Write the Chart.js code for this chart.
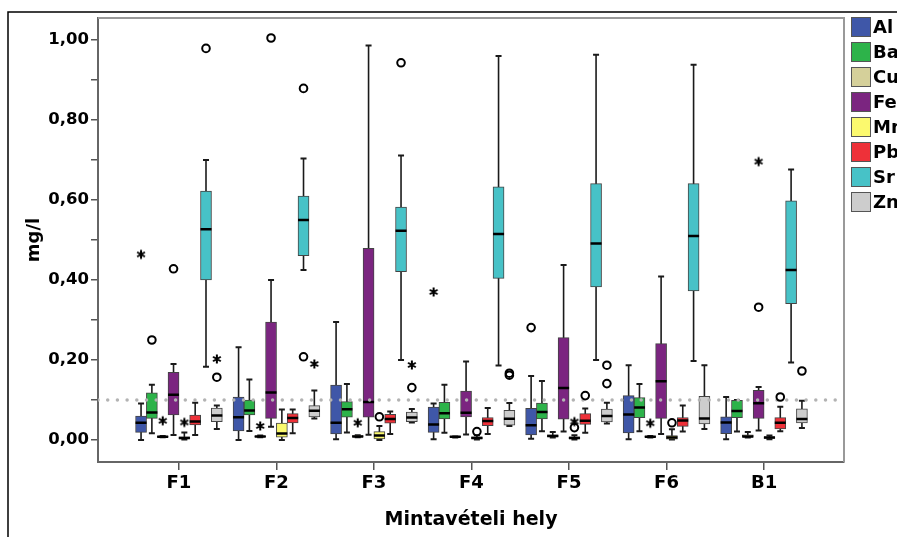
<!DOCTYPE html>
<html>
<head>
<meta charset="utf-8">
<script src="https://cdn.jsdelivr.net/npm/chart.js@4.4.1/dist/chart.umd.min.js"></script>
<style>
  html, body { margin: 0; padding: 0; background: #fff; }
</style>
</head>
<body>
<canvas id="myChart" width="897" height="537"></canvas>
<script>
// mintavételi helyek és elemek
const sites = ["F1", "F2", "F3", "F4", "F5", "F6", "B1"];
const elements = ["Al", "Ba", "Cu", "Fe", "Mn", "Pb", "Sr", "Zn"];
const colors = ["#3f57a8", "#2db34a", "#d5d09a", "#7b2580", "#fbf96e", "#ee3139", "#47c2c7", "#cdcdcd"];

// [min, Q1, medián, Q3, max] helyenként (F1..F6, B1)
const al = [[0.000, 0.019, 0.043, 0.060, 0.091], [0.000, 0.0225, 0.057, 0.107, 0.232], [0.002, 0.015, 0.043, 0.1375, 0.295], [0.002, 0.019, 0.039, 0.0825, 0.091], [0.003, 0.0125, 0.037, 0.079, 0.160], [0.002, 0.018, 0.064, 0.111, 0.187], [0.002, 0.016, 0.044, 0.058, 0.1075]];
const ba = [[0.017, 0.054, 0.069, 0.118, 0.138], [0.0225, 0.0625, 0.074, 0.100, 0.151], [0.019, 0.057, 0.077, 0.096, 0.140], [0.018, 0.0525, 0.067, 0.094, 0.138], [0.022, 0.053, 0.070, 0.0925, 0.1475], [0.022, 0.056, 0.081, 0.106, 0.140], [0.021, 0.056, 0.0725, 0.099, 0.100]];
const cu = [[0.007, 0.007, 0.008, 0.010, 0.010], [0.007, 0.008, 0.009, 0.010, 0.011], [0.007, 0.008, 0.009, 0.011, 0.012], [0.006, 0.007, 0.008, 0.009, 0.009], [0.006, 0.008, 0.010, 0.013, 0.020], [0.006, 0.007, 0.008, 0.010, 0.010], [0.006, 0.007, 0.009, 0.013, 0.020]];
const fe = [[0.0125, 0.0625, 0.113, 0.169, 0.190], [0.033, 0.054, 0.119, 0.295, 0.400], [0.013, 0.057, 0.095, 0.479, 0.986], [0.014, 0.058, 0.068, 0.1225, 0.196], [0.021, 0.052, 0.130, 0.256, 0.4375], [0.015, 0.054, 0.147, 0.241, 0.409], [0.024, 0.054, 0.092, 0.124, 0.1325]];
const mn = [[0.001, 0.003, 0.005, 0.008, 0.019], [0.000, 0.007, 0.016, 0.042, 0.076], [0.000, 0.0025, 0.011, 0.021, 0.035], [0.001, 0.003, 0.005, 0.008, 0.012], [0.001, 0.003, 0.005, 0.008, 0.012], [0.001, 0.002, 0.006, 0.011, 0.027], [0.002, 0.004, 0.006, 0.008, 0.011]];
const pb = [[0.0125, 0.0375, 0.046, 0.062, 0.093], [0.017, 0.043, 0.055, 0.066, 0.076], [0.015, 0.042, 0.0525, 0.064, 0.071], [0.015, 0.036, 0.0475, 0.056, 0.080], [0.018, 0.039, 0.048, 0.066, 0.079], [0.021, 0.034, 0.049, 0.056, 0.086], [0.022, 0.0275, 0.043, 0.056, 0.083]];
const sr = [[0.183, 0.400, 0.527, 0.622, 0.700], [0.425, 0.461, 0.550, 0.610, 0.704], [0.200, 0.421, 0.523, 0.5825, 0.711], [0.186, 0.404, 0.515, 0.633, 0.960], [0.200, 0.3825, 0.491, 0.641, 0.963], [0.1975, 0.373, 0.510, 0.641, 0.938], [0.194, 0.341, 0.425, 0.598, 0.676]];
const zn = [[0.0275, 0.046, 0.061, 0.080, 0.086], [0.054, 0.058, 0.073, 0.086, 0.124], [0.044, 0.046, 0.056, 0.070, 0.0775], [0.035, 0.037, 0.053, 0.074, 0.0925], [0.041, 0.045, 0.060, 0.077, 0.093], [0.0275, 0.040, 0.054, 0.109, 0.187], [0.030, 0.043, 0.0525, 0.078, 0.098]];
const stats = [al, ba, cu, fe, mn, pb, sr, zn];

// kiugró értékek (kör) és extrém értékek (csillag): [hely 1..7, elem index, érték]
const outliers = [
  [1, 1, 0.250], [1, 3, 0.428], [1, 6, 0.979], [1, 7, 0.157],
  [2, 3, 1.005], [2, 6, 0.879], [2, 6, 0.208],
  [3, 4, 0.058], [3, 6, 0.943], [3, 7, 0.131],
  [4, 4, 0.021], [4, 7, 0.162], [4, 7, 0.167],
  [5, 0, 0.281], [5, 4, 0.031], [5, 5, 0.111], [5, 7, 0.187], [5, 7, 0.141],
  [6, 4, 0.043],
  [7, 3, 0.332], [7, 5, 0.1075], [7, 7, 0.1725],
];
const extremes = [
  [1, 0, 0.464], [1, 2, 0.048], [1, 4, 0.044], [1, 7, 0.2025],
  [2, 2, 0.035], [2, 7, 0.190],
  [3, 2, 0.043], [3, 7, 0.1875],
  [4, 0, 0.370],
  [5, 4, 0.046],
  [6, 2, 0.042],
  [7, 3, 0.696],
];
const limitValue = 0.1; // pontozott határérték vonal
const yTicks = [0, 0.1, 0.2, 0.3, 0.4, 0.5, 0.6, 0.7, 0.8, 0.9, 1.0];

const STEP = 0.111; // dobozok távolsága egy csoporton belül
const FONT = "DejaVu Sans";
const xPos = (site, el) => site + (el - 3.5) * STEP;

// csillag jel (SPSS-szerű *) pontstílusnak
function makeStar() {
  const c = document.createElement("canvas");
  c.width = 12;
  c.height = 12;
  const g = c.getContext("2d");
  g.strokeStyle = "#000";
  g.lineWidth = 2;
  g.lineCap = "butt";
  g.beginPath();
  for (let k = 0; k < 3; k++) {
    const ang = Math.PI / 2 + (k * Math.PI) / 3;
    const dx = Math.cos(ang) * 4.5;
    const dy = Math.sin(ang) * 4.5;
    g.moveTo(6 - dx, 6 - dy);
    g.lineTo(6 + dx, 6 + dy);
  }
  g.stroke();
  return c;
}

// whisker, medián, keretek, jelmagyarázat
const boxPlot = {
  id: "boxPlot",
  beforeDatasetsDraw(chart) {
    const { ctx } = chart;
    const y = chart.scales.y;
    ctx.save();
    ctx.strokeStyle = "#1a1a1a";
    chart.data.datasets.forEach((ds, i) => {
      if (!ds.stats) return;
      const meta = chart.getDatasetMeta(i);
      ds.stats.forEach((s, k) => {
        const x = meta.data[k].x;
        const top = y.getPixelForValue(s[4]);
        const bot = y.getPixelForValue(s[0]);
        ctx.lineWidth = 1.6;
        ctx.beginPath();
        ctx.moveTo(x, top);
        ctx.lineTo(x, bot);
        ctx.stroke();
        ctx.lineWidth = 2;
        ctx.beginPath();
        ctx.moveTo(x - 3, top);
        ctx.lineTo(x + 3, top);
        ctx.moveTo(x - 3, bot);
        ctx.lineTo(x + 3, bot);
        ctx.stroke();
      });
    });
    ctx.restore();
  },
  afterDatasetDraw(chart, args) {
    const ds = chart.data.datasets[args.index];
    if (!ds.stats) return;
    const { ctx } = chart;
    const y = chart.scales.y;
    ctx.save();
    ctx.strokeStyle = "#000";
    ctx.lineWidth = 2.5;
    ctx.beginPath();
    args.meta.data.forEach((bar, k) => {
      const my = y.getPixelForValue(ds.stats[k][2]);
      ctx.moveTo(bar.x - bar.width / 2, my);
      ctx.lineTo(bar.x + bar.width / 2, my);
    });
    ctx.stroke();
    ctx.restore();
  },
  afterDraw(chart) {
    const { ctx, chartArea: a } = chart;
    ctx.save();
    // külső keret
    ctx.strokeStyle = "#000";
    ctx.lineWidth = 1.5;
    ctx.beginPath();
    ctx.moveTo(8, 537);
    ctx.lineTo(8, 12);
    ctx.lineTo(897, 12);
    ctx.stroke();
    // diagram keret felül és jobbra
    ctx.strokeStyle = "#999";
    ctx.lineWidth = 2;
    ctx.beginPath();
    ctx.moveTo(a.left, a.top);
    ctx.lineTo(a.right, a.top);
    ctx.lineTo(a.right, a.bottom);
    ctx.stroke();
    // jelmagyarázat
    ctx.font = "bold 18px " + FONT;
    ctx.textBaseline = "middle";
    ctx.textAlign = "left";
    elements.forEach((name, i) => {
      const top = 17 + i * 25;
      ctx.fillStyle = colors[i];
      ctx.fillRect(851, top, 19, 19);
      ctx.strokeStyle = "#555";
      ctx.lineWidth = 1;
      ctx.strokeRect(851.5, top + 0.5, 19, 19);
      ctx.fillStyle = "#000";
      ctx.fillText(name, 873, top + 11);
    });
    ctx.restore();
  },
};

const boxSets = elements.map((name, i) => ({
  type: "bar",
  label: name,
  stats: stats[i],
  data: stats[i].map((s, k) => ({ x: xPos(k + 1, i), y: [s[1], s[3]] })),
  backgroundColor: colors[i],
  borderColor: "#444",
  borderWidth: 1,
  borderSkipped: false,
  grouped: false,
  barThickness: 11,
  order: 3,
}));

const ctx = document.getElementById("myChart").getContext("2d");
const myChart = new Chart(ctx, {
  type: "bar",
  data: {
    datasets: [
      ...boxSets,
      {
        type: "line",
        label: "limit",
        data: [{ x: 0.17, y: limitValue }, { x: 7.82, y: limitValue }],
        borderColor: "#b3b3b3",
        borderWidth: 3.5,
        borderDash: [0, 9.7],
        borderCapStyle: "round",
        pointRadius: 0,
        order: 2,
      },
      {
        type: "scatter",
        label: "outliers",
        data: outliers.map(([s, e, v]) => ({ x: xPos(s, e), y: v })),
        pointStyle: "circle",
        pointRadius: 3.8,
        borderColor: "#000",
        borderWidth: 2,
        backgroundColor: "rgba(255,255,255,0)",
        order: 1,
      },
      {
        type: "scatter",
        label: "extremes",
        data: extremes.map(([s, e, v]) => ({ x: xPos(s, e), y: v })),
        pointStyle: makeStar(),
        pointRadius: 5,
        order: 1,
      },
    ],
  },
  options: {
    responsive: false,
    animation: false,
    layout: { padding: { left: 0, top: 18, right: 53, bottom: 0 } },
    plugins: {
      legend: { display: false },
      tooltip: { enabled: false },
    },
    scales: {
      x: {
        type: "linear",
        min: 0.17,
        max: 7.82,
        offset: false,
        grid: { drawOnChartArea: false, offset: false, tickLength: 8, color: "#555", lineWidth: 1.5 },
        border: { color: "#666", width: 2 },
        ticks: {
          color: "#000",
          font: { family: FONT, size: 18, weight: "bold" },
          padding: 3,
          maxRotation: 0,
          autoSkip: false,
          callback: (v, i) => sites[i],
        },
        afterBuildTicks: (s) => { s.ticks = sites.map((_, i) => ({ value: i + 1 })); },
        afterFit: (s) => { s.height = 75; },
        title: {
          display: true,
          text: "Mintavételi hely",
          color: "#000",
          font: { family: FONT, size: 19, weight: "bold" },
          padding: { top: 0, bottom: 6 },
        },
      },
      y: {
        min: -0.055,
        max: 1.055,
        grid: { drawOnChartArea: false, tickLength: 7, color: "#555", lineWidth: 1.5 },
        border: { color: "#666", width: 2 },
        ticks: {
          color: "#000",
          font: { family: FONT, size: 16.5, weight: "bold" },
          padding: 2,
          autoSkip: false,
          callback: (v, i) => (i % 2 === 0 ? v.toFixed(2).replace(".", ",") : ""),
        },
        afterBuildTicks: (s) => { s.ticks = yTicks.map((v) => ({ value: v })); },
        afterFit: (s) => { s.width = 98; },
        title: {
          display: true,
          text: "mg/l",
          color: "#000",
          font: { family: FONT, size: 18, weight: "bold" },
          padding: { top: 24, bottom: 0 },
        },
      },
    },
  },
  plugins: [boxPlot],
});
</script>
</body>
</html>
